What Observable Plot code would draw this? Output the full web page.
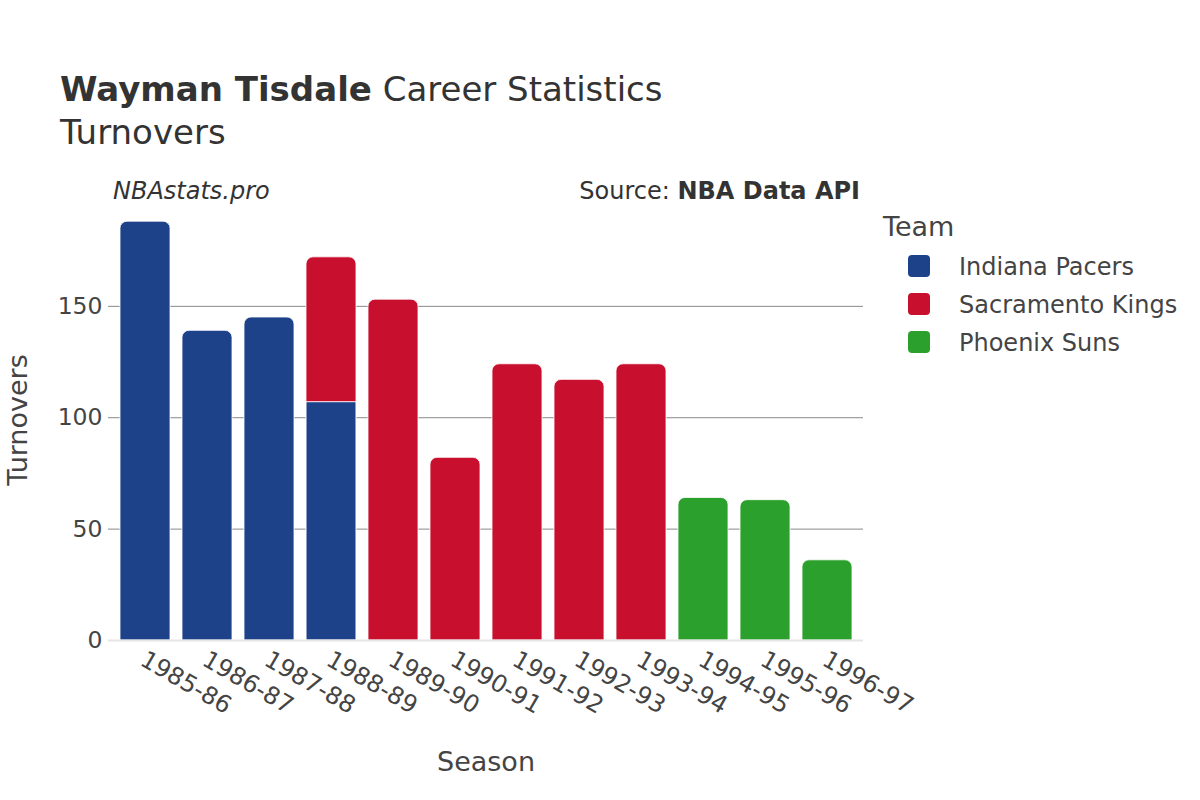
<!DOCTYPE html>
<html>
<head>
<meta charset="utf-8">
<script src="https://cdn.jsdelivr.net/npm/d3@7"></script>
<script src="https://cdn.jsdelivr.net/npm/@observablehq/plot@0.6"></script>
<style>
  html, body { margin: 0; padding: 0; background: #fff; }
  body { font-family: "DejaVu Sans", sans-serif; color: #333; }
  #wrap { position: relative; width: 1200px; height: 800px; overflow: hidden; }
  #header { position: relative; height: 170px; }
  .abs { position: absolute; white-space: nowrap; line-height: 1; }
  #legend { position: absolute; left: 883px; top: 210px; }
  .sw { position: absolute; width: 22px; height: 22px; border-radius: 4px; }
  .lt { position: absolute; font-size: 24px; color: #444; line-height: 1; white-space: nowrap; }
</style>
</head>
<body>
<div id="wrap">
  <div id="header">
    <div class="abs" style="left:60px; top:72px; font-size:34px; color:#333;"><b>Wayman Tisdale</b> Career Statistics</div>
    <div class="abs" style="left:60px; top:115px; font-size:34px; color:#333;">Turnovers</div>
  </div>
  <div id="chart"></div>
  <div class="abs" style="left:113px; top:179px; font-size:24px; font-style:italic; color:#333;">NBAstats.pro</div>
  <div class="abs" style="right:340px; top:179px; font-size:24px; color:#333;">Source: <b>NBA Data API</b></div>
  <div id="legend"></div>
</div>
<script>
// ---- data ----
const seasons = ["1985-86","1986-87","1987-88","1988-89","1989-90","1990-91","1991-92","1992-93","1993-94","1994-95","1995-96","1996-97"];
const teams = ["Indiana Pacers","Sacramento Kings","Phoenix Suns"];
const teamColors = ["#1d428a","#c8102e","#2ca02c"];
const pacersSeasons = ["1985-86","1986-87","1987-88","1988-89"];
const pacersTurnovers = [188, 139, 145, 107];
const kingsSeasons = ["1988-89","1989-90","1990-91","1991-92","1992-93","1993-94"];
const kingsTurnovers = [65, 153, 82, 124, 117, 124];
const sunsSeasons = ["1994-95","1995-96","1996-97"];
const sunsTurnovers = [64, 63, 36];
const yTicks = [0, 50, 100, 150];

// ---- build rows with stacking (team order = stack order) ----
const rows = [];
const teamSeries = [
  [teams[0], pacersSeasons, pacersTurnovers],
  [teams[1], kingsSeasons, kingsTurnovers],
  [teams[2], sunsSeasons, sunsTurnovers]
];
const base = new Map();
for (const [team, ss, vs] of teamSeries) {
  ss.forEach((s, i) => {
    const b = base.get(s) || 0;
    rows.push({season: s, team, value: vs[i], y1: b, y2: b + vs[i]});
    base.set(s, b + vs[i]);
  });
}
rows.forEach(r => { r.top = r.y2 === base.get(r.season); });
const maxTotal = d3.max(Array.from(base.values()));

const chart = Plot.plot({
  width: 1200,
  height: 630,
  marginTop: 29,
  marginBottom: 160,
  marginLeft: 108,
  marginRight: 337,
  style: {fontFamily: "DejaVu Sans, sans-serif", fontSize: "24px", color: "#444", background: "#fff"},
  x: {domain: seasons, padding: 0.2, range: [102.4, 869.8], label: null},
  y: {domain: [0, maxTotal * 1.053], label: null},
  color: {domain: teams, range: teamColors},
  marks: [
    Plot.ruleY(yTicks.filter(t => t > 0), {stroke: "#888", strokeWidth: 1, strokeOpacity: 1}),
    Plot.barY(rows.filter(r => !r.top), {x: "season", y1: "y1", y2: "y2", fill: "team", stroke: "white", strokeWidth: 1}),
    Plot.barY(rows.filter(r => r.top), {x: "season", y1: "y1", y2: "y2", fill: "team", stroke: "white", strokeWidth: 0.8, ry1: 7}),
    Plot.ruleY([0], {stroke: "#e6e6e6", strokeWidth: 2}),
    Plot.axisY({ticks: yTicks, tickSize: 0, tickPadding: 6, fontSize: 23.5, label: null, fill: "#444"}),
    Plot.axisX({tickSize: 0, tickRotate: 30, tickPadding: 17, fontSize: 24, label: null, fill: "#444", dx: -3}),
    Plot.text(["Season"], {frameAnchor: "bottom", dy: 130, fontSize: 27, fill: "#444"}),
    Plot.text(["Turnovers"], {frameAnchor: "left", textAnchor: "middle", dx: -90, rotate: -90, fontSize: 27, fill: "#444"})
  ]
});
document.getElementById("chart").appendChild(chart);

// ---- legend ----
const lg = document.getElementById("legend");
const lt = document.createElement("div");
lt.className = "lt";
lt.style.cssText = "left:0px; top:3px; font-size:27px;";
lt.textContent = "Team";
lg.appendChild(lt);
teams.forEach((t, i) => {
  const sw = document.createElement("div");
  sw.className = "sw";
  sw.style.left = "25px";
  sw.style.top = (45 + i * 38) + "px";
  sw.style.background = teamColors[i];
  lg.appendChild(sw);
  const tx = document.createElement("div");
  tx.className = "lt";
  tx.style.left = "76px";
  tx.style.top = (45 + i * 38) + "px";
  tx.textContent = t;
  lg.appendChild(tx);
});
</script>
</body>
</html>
